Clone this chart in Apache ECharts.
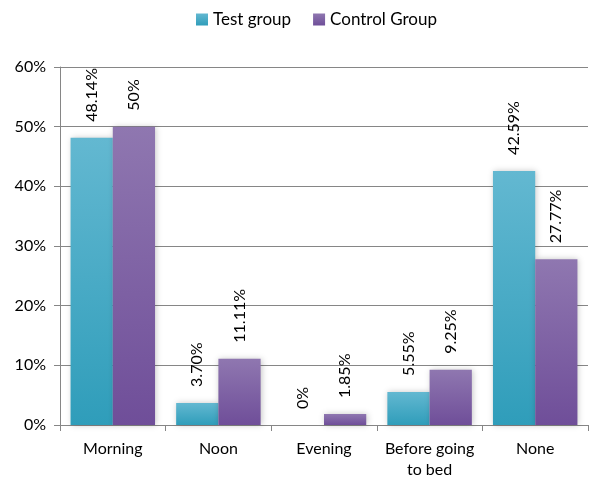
<!DOCTYPE html>
<html>
<head>
<meta charset="utf-8">
<script src="https://cdn.jsdelivr.net/npm/echarts@6/dist/echarts.min.js"></script>
<style>
  html, body { margin: 0; padding: 0; background: #fff; }
  #chart { width: 592px; height: 479px; }
</style>
</head>
<body>
<div id="chart"></div>
<script>
// Share of participants per time of day
const categories = ['Morning', 'Noon', 'Evening', 'Before going\nto bed', 'None'];
const testGroup = [48.14, 3.70, 0, 5.55, 42.59];
const controlGroup = [50, 11.11, 1.85, 9.25, 27.77];
const testLabels = ['48.14%', '3.70%', '0%', '5.55%', '42.59%'];
const controlLabels = ['50%', '11.11%', '1.85%', '9.25%', '27.77%'];
const yTicks = [0, 10, 20, 30, 40, 50, 60];

const FONT = 'Lato, "Open Sans", sans-serif';

function grad(top, bottom) {
  return new echarts.graphic.LinearGradient(0, 0, 0, 1, [
    { offset: 0, color: top },
    { offset: 1, color: bottom }
  ]);
}

function labelFor(texts) {
  return {
    show: true,
    position: 'top',
    rotate: 90,
    align: 'left',
    verticalAlign: 'middle',
    distance: 16,
    fontFamily: FONT,
    fontSize: 16,
    color: '#000',
    formatter: p => texts[p.dataIndex]
  };
}

const chart = echarts.init(document.getElementById('chart'));
chart.setOption({
  animation: false,
  legend: {
    top: 6,
    left: 191,
    itemWidth: 12,
    itemHeight: 12,
    itemGap: 22,
    icon: 'rect',
    textStyle: { fontFamily: FONT, fontSize: 17, color: '#000' },
    data: ['Test group', 'Control Group']
  },
  grid: { left: 60, right: 4, top: 67, bottom: 54, containLabel: false, outerBoundsMode: 'none' },
  xAxis: {
    type: 'category',
    data: categories,
    axisLine: { lineStyle: { color: '#868686', width: 1 } },
    axisTick: { show: true, alignWithLabel: false, interval: 0, length: 6, lineStyle: { color: '#868686' } },
    axisLabel: { interval: 0, fontFamily: FONT, fontSize: 16, color: '#000', margin: 13, lineHeight: 21 }
  },
  yAxis: {
    type: 'value',
    min: 0,
    max: 60,
    interval: 10,
    axisLine: { show: true, lineStyle: { color: '#868686' } },
    axisTick: { show: true, length: 6, lineStyle: { color: '#868686' } },
    axisLabel: {
      fontFamily: FONT, fontSize: 16, color: '#000', margin: 14,
      formatter: v => (yTicks.includes(v) ? v + '%' : '')
    },
    splitLine: { show: true, lineStyle: { color: '#868686', width: 1 } }
  },
  series: [
    {
      name: 'Test group',
      type: 'bar',
      data: testGroup,
      barGap: '0%',
      barCategoryGap: '20%',
      itemStyle: {
        color: grad('#63b8d1', '#2f9dba'),
        shadowColor: 'rgba(0,0,0,0.22)',
        shadowBlur: 6,
        shadowOffsetX: 1,
        shadowOffsetY: 0
      },
      label: labelFor(testLabels)
    },
    {
      name: 'Control Group',
      type: 'bar',
      data: controlGroup,
      itemStyle: {
        color: grad('#8f77b0', '#6f4e99'),
        shadowColor: 'rgba(0,0,0,0.22)',
        shadowBlur: 6,
        shadowOffsetX: 1,
        shadowOffsetY: 0
      },
      label: labelFor(controlLabels)
    }
  ]
});
</script>
</body>
</html>
